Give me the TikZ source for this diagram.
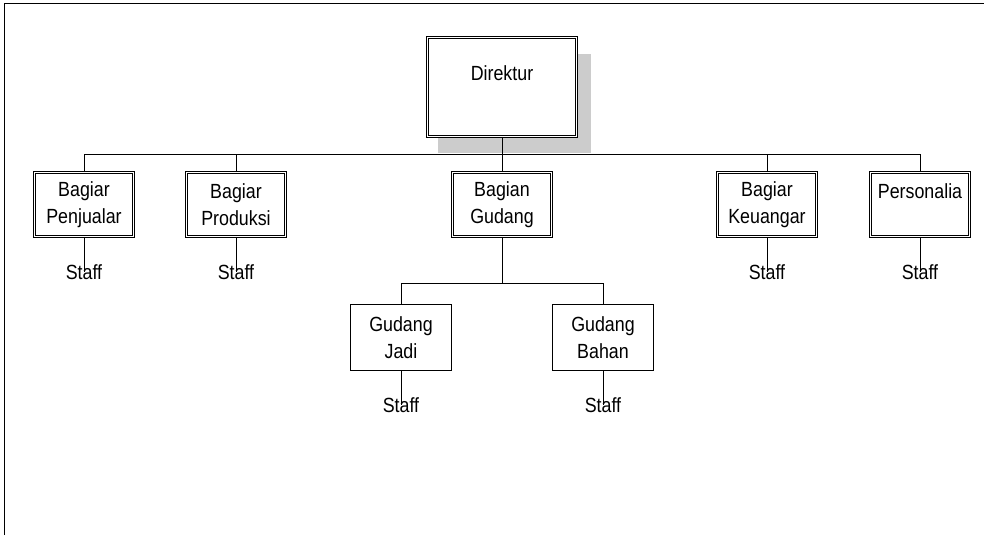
\documentclass[tikz,border=0pt]{standalone}
\usepackage{fontspec}
\setmainfont[FakeStretch=0.87]{Liberation Sans}
\usetikzlibrary{calc}

\begin{document}
\begin{tikzpicture}[x=1pt,y=-1pt,line width=1pt,
    txt/.style={font=\fontsize{20.5}{27}\selectfont,inner sep=0pt,align=center},
    unit/.style={txt,draw,fill=white,double,double distance=1.2pt,line width=1.1pt,minimum width=98.6pt,minimum height=63.6pt},
    subunit/.style={txt,draw,fill=white,line width=1pt,minimum width=101pt,minimum height=66pt}]
  \useasboundingbox (0,0) rectangle (984,535);
  \draw (4,535) -- (4,4) -- (984,4);
  \fill[black!20] (438,54) rectangle (591,153);
  \node[unit,minimum width=148.6pt,minimum height=98.6pt] (dir) at (502,87) {Direktur\\~};
  \node[unit] (jual) at (84,204.5) {Bagiar\\Penjualar};
  \node[unit] (prod) at (236,204.5) {Bagiar\\Produksi};
  \node[unit] (gud) at (502,204.5) {Bagian\\Gudang};
  \node[unit] (keu) at (767,204.5) {Bagiar\\Keuangar};
  \node[unit] (pers) at (920,204.5) {Personalia\\~};
  \node[subunit] (jadi) at (401,337.5) {Gudang\\Jadi};
  \node[subunit] (bahan) at (603,337.5) {Gudang\\Bahan};
  \coordinate (bus) at (502,154);
  \coordinate (gbus) at (502,283);
  \draw (dir.south) -- (bus);
  \foreach \u in {jual,prod,gud,keu,pers}
    \draw (\u.north) |- (bus);
  \draw (gud.south) -- (gbus);
  \draw (jadi.north) |- (gbus);
  \draw (bahan.north) |- (gbus);
  % staff
  \foreach \u in {jual,prod,keu,pers}{
    \node[txt] (s\u) at ($(\u.south)+(0,35)$) {Staff};
    \draw (\u.south) -- (s\u.center);
  }
  \foreach \u in {jadi,bahan}{
    \node[txt] (s\u) at ($(\u.south)+(0,34)$) {Staff};
    \draw (\u.south) -- (s\u.center);
  }
\end{tikzpicture}
\end{document}
